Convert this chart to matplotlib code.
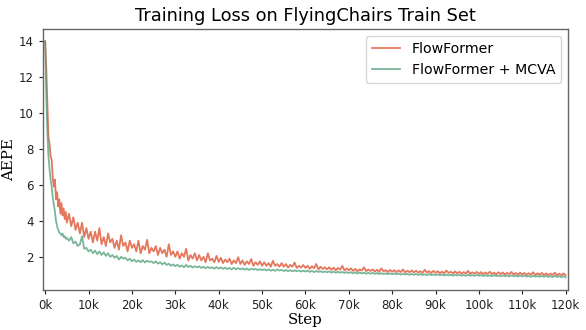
import numpy as np
import matplotlib
matplotlib.use("Agg")
import matplotlib.pyplot as plt
from matplotlib.ticker import FuncFormatter

# Steps: dense at the start, then every 500 steps
steps_early = list(range(0, 5001, 250))
steps_late = list(range(5500, 120001, 500))
steps = np.array(steps_early + steps_late)

flowformer = [
    14.0, 12.5, 10.5, 8.7, 8.3, 7.6, 7.4, 6.4, 5.9, 6.3, 5.2, 5.6, 4.8, 5.2, 4.4, 5.0, 4.3, 4.7, 4.1, 4.5, 3.9,
    4.4, 3.7, 4.2, 3.5, 3.9, 3.3, 3.9, 3.1, 3.6, 3.0,
    3.4, 2.8, 3.4, 2.9, 3.6, 2.7, 3.1, 2.6, 3.3, 2.8,
    3.0, 2.5, 2.9, 2.4, 3.2, 2.6, 2.8, 2.3, 2.9, 2.5,
    2.7, 2.3, 2.9, 2.2, 2.6, 2.4, 2.95, 2.2, 2.5, 2.3,
    2.6, 2.1, 2.5, 2.2, 2.4, 2.0, 2.7, 2.1, 2.3, 2.0,
    2.3, 1.9, 2.2, 2.0, 2.45, 1.8, 2.1, 1.9, 2.2, 1.8,
    2.1, 1.8, 2.0, 1.7, 2.2, 1.8, 1.9, 1.7, 2.05, 1.72,
    1.95, 1.65, 1.85, 1.7, 1.9, 1.6, 1.8, 1.65, 1.98, 1.6,
    1.8, 1.55, 1.75, 1.6, 1.88, 1.5, 1.7, 1.55, 1.75, 1.5,
    1.7, 1.5, 1.65, 1.45, 1.78, 1.5, 1.6, 1.45, 1.65, 1.45,
    1.6, 1.4, 1.55, 1.45, 1.68, 1.38, 1.5, 1.4, 1.55, 1.38,
    1.5, 1.33, 1.48, 1.36, 1.6, 1.3, 1.45, 1.32, 1.42, 1.3,
    1.42, 1.27, 1.4, 1.25, 1.38, 1.28, 1.5, 1.24, 1.35, 1.25,
    1.36, 1.22, 1.33, 1.2, 1.3, 1.24, 1.42, 1.2, 1.3, 1.21,
    1.3, 1.18, 1.28, 1.16, 1.36, 1.19, 1.26, 1.15, 1.27, 1.17,
    1.26, 1.14, 1.25, 1.15, 1.3, 1.13, 1.23, 1.14, 1.24, 1.13,
    1.23, 1.12, 1.2, 1.1, 1.28, 1.12, 1.2, 1.1, 1.22, 1.11,
    1.2, 1.09, 1.18, 1.08, 1.24, 1.1, 1.17, 1.07, 1.19, 1.08,
    1.17, 1.06, 1.15, 1.07, 1.22, 1.05, 1.14, 1.06, 1.16, 1.05,
    1.15, 1.04, 1.13, 1.05, 1.17, 1.04, 1.12, 1.03, 1.14, 1.04,
    1.13, 1.02, 1.11, 1.03, 1.16, 1.02, 1.1, 1.01, 1.12, 1.02,
    1.1, 1.0, 1.09, 1.01, 1.14, 0.99, 1.08, 1.0, 1.1, 0.99,
    1.08, 0.98, 1.07, 0.99, 1.12, 0.97, 1.06, 0.98, 1.08, 0.98,
]

flowformer_mcva = [
    14.0, 11.0, 9.0, 7.6, 6.9, 6.3, 5.9, 5.3, 4.9, 4.5, 4.0, 3.7, 3.5, 3.35, 3.3, 3.2, 3.3, 3.1, 3.15, 3.0, 3.05,
    2.9, 3.1, 2.75, 2.85, 2.6, 2.7, 3.15, 2.45, 2.5, 2.3,
    2.4, 2.2, 2.35, 2.15, 2.3, 2.1, 2.25, 2.05, 2.2, 2.0,
    2.1, 1.95, 2.05, 1.85, 2.0, 1.9, 1.95, 1.8, 1.9, 1.75,
    1.85, 1.72, 1.8, 1.7, 1.82, 1.68, 1.78, 1.72, 1.75, 1.65,
    1.75, 1.62, 1.7, 1.58, 1.68, 1.55, 1.62, 1.5, 1.58, 1.48,
    1.56, 1.45, 1.52, 1.42, 1.55, 1.43, 1.5, 1.4, 1.48, 1.41,
    1.47, 1.38, 1.45, 1.36, 1.44, 1.37, 1.42, 1.34, 1.43, 1.35,
    1.41, 1.33, 1.4, 1.32, 1.38, 1.3, 1.39, 1.31, 1.37, 1.3,
    1.36, 1.28, 1.35, 1.27, 1.34, 1.29, 1.33, 1.26, 1.32, 1.26,
    1.31, 1.24, 1.3, 1.23, 1.29, 1.22, 1.3, 1.23, 1.28, 1.21,
    1.27, 1.2, 1.26, 1.19, 1.25, 1.2, 1.24, 1.18, 1.23, 1.18,
    1.23, 1.16, 1.22, 1.15, 1.21, 1.16, 1.2, 1.14, 1.19, 1.14,
    1.19, 1.12, 1.18, 1.11, 1.17, 1.12, 1.16, 1.1, 1.15, 1.1,
    1.15, 1.08, 1.14, 1.07, 1.13, 1.08, 1.12, 1.06, 1.11, 1.06,
    1.11, 1.05, 1.1, 1.04, 1.09, 1.04, 1.08, 1.03, 1.08, 1.03,
    1.08, 1.02, 1.07, 1.01, 1.06, 1.02, 1.05, 1.0, 1.05, 1.0,
    1.05, 0.99, 1.04, 0.99, 1.03, 0.98, 1.04, 0.98, 1.02, 0.98,
    1.03, 0.97, 1.02, 0.96, 1.01, 0.97, 1.0, 0.95, 1.01, 0.96,
    1.0, 0.95, 0.99, 0.94, 1.0, 0.95, 0.98, 0.94, 0.99, 0.94,
    0.99, 0.93, 0.98, 0.93, 0.97, 0.92, 0.98, 0.93, 0.96, 0.92,
    0.97, 0.92, 0.96, 0.91, 0.97, 0.92, 0.95, 0.91, 0.96, 0.91,
    0.95, 0.9, 0.94, 0.89, 0.95, 0.9, 0.93, 0.89, 0.94, 0.89,
    0.94, 0.88, 0.93, 0.87, 0.94, 0.88, 0.92, 0.87, 0.93, 0.86,
]

labels = ["FlowFormer", "FlowFormer + MCVA"]
xticks = list(range(0, 120001, 10000))
yticks = [2, 4, 6, 8, 10, 12, 14]

fig = plt.figure(figsize=(5.86, 3.30), dpi=100)
ax = fig.add_axes([0.0734, 0.121, 0.8956, 0.79])

ax.plot(steps, flowformer, color="#DD5A3A", alpha=0.82, lw=1.3, label=labels[0])
ax.plot(steps, flowformer_mcva, color="#4E9E78", alpha=0.75, lw=1.3, label=labels[1])

ax.set_xlim(-500, 120500)
ax.set_ylim(0.15, 14.66)
ax.set_xticks(xticks)
ax.xaxis.set_major_formatter(FuncFormatter(lambda v, p: f"{int(v/1000)}k"))
ax.set_yticks(yticks)
ax.tick_params(labelsize=8.5, colors="#222222", length=3)
for s in ax.spines.values():
    s.set_color("#666666")
    s.set_linewidth(1.0)

ax.set_title("Training Loss on FlyingChairs Train Set", fontsize=12.8, pad=6)
ax.set_xlabel("Step", family="DejaVu Serif", fontsize=10.8, labelpad=0.5)
ax.set_ylabel("AEPE", family="DejaVu Serif", fontsize=10.8, labelpad=2)
ax.legend(loc="upper right", fontsize=10.2, frameon=True, fancybox=True)

fig.savefig("out.png", dpi=100)
